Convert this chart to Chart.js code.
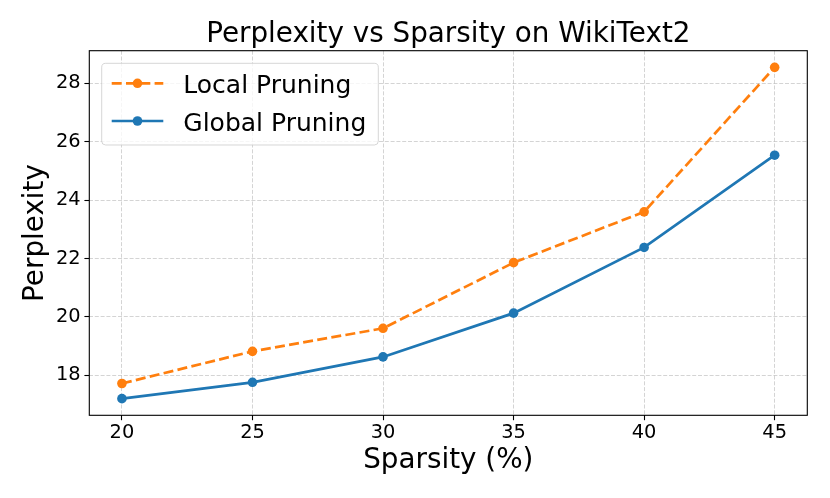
<!DOCTYPE html>
<html>
<head>
<meta charset="utf-8">
<script src="https://cdn.jsdelivr.net/npm/chart.js@4.4.1/dist/chart.umd.min.js"></script>
<style>
  html, body { margin: 0; padding: 0; background: #ffffff; }
  #wrap { width: 830px; height: 498px; }
</style>
</head>
<body>
<div id="wrap"><canvas id="c" width="830" height="498"></canvas></div>
<script>
const sparsity = [20, 25, 30, 35, 40, 45];
const localPruning = [17.72, 18.82, 19.61, 21.86, 23.60, 28.55];
const globalPruning = [17.20, 17.76, 18.63, 20.13, 22.38, 25.54];
const seriesNames = ['Local Pruning', 'Global Pruning'];
const titleText = 'Perplexity vs Sparsity on WikiText2';
const xTitle = 'Sparsity (%)';
const yTitle = 'Perplexity';

const FONT = 'DejaVu Sans';
const ORANGE = '#ff7f0e';
const BLUE = '#1f77b4';

function pairs(xs, ys) { return xs.map((x, i) => ({ x: x, y: ys[i] })); }

const frameAndLegend = {
  id: 'frameAndLegend',
  afterDraw(chart) {
    const ctx = chart.ctx;
    const a = chart.chartArea;
    ctx.save();
    // axes frame
    ctx.strokeStyle = '#000000';
    ctx.lineWidth = 1.1;
    ctx.setLineDash([]);
    ctx.strokeRect(a.left, a.top, a.right - a.left, a.bottom - a.top);

    // legend
    const bx = a.left + 12.4, by = a.top + 12.6, bw = 276.6, bh = 81.7, r = 4;
    ctx.beginPath();
    ctx.moveTo(bx + r, by);
    ctx.lineTo(bx + bw - r, by);
    ctx.quadraticCurveTo(bx + bw, by, bx + bw, by + r);
    ctx.lineTo(bx + bw, by + bh - r);
    ctx.quadraticCurveTo(bx + bw, by + bh, bx + bw - r, by + bh);
    ctx.lineTo(bx + r, by + bh);
    ctx.quadraticCurveTo(bx, by + bh, bx, by + bh - r);
    ctx.lineTo(bx, by + r);
    ctx.quadraticCurveTo(bx, by, bx + r, by);
    ctx.closePath();
    ctx.fillStyle = 'rgba(255,255,255,0.8)';
    ctx.fill();
    ctx.strokeStyle = 'rgba(204,204,204,0.8)';
    ctx.lineWidth = 1;
    ctx.stroke();

    chart.data.datasets.forEach((ds, i) => {
      const rowY = by + 20 + i * 37.7;
      const x0 = bx + 10, x1 = bx + 61.6, xm = (x0 + x1) / 2;
      ctx.strokeStyle = ds.borderColor;
      ctx.lineWidth = ds.borderWidth;
      ctx.setLineDash(ds.borderDash || []);
      ctx.beginPath();
      ctx.moveTo(x0, rowY);
      ctx.lineTo(x1, rowY);
      ctx.stroke();
      ctx.setLineDash([]);
      ctx.fillStyle = ds.borderColor;
      ctx.beginPath();
      ctx.arc(xm, rowY, ds.pointRadius, 0, Math.PI * 2);
      ctx.fill();
      ctx.fillStyle = '#000000';
      ctx.font = '25px "' + FONT + '"';
      ctx.textAlign = 'left';
      ctx.textBaseline = 'alphabetic';
      ctx.fillText(ds.label, bx + 81.6, rowY + 10);
    });
    ctx.restore();
  }
};

const gridCommon = {
  color: 'rgba(176,176,176,0.55)',
  lineWidth: 1,
  tickLength: 4.9,
  tickColor: '#000000',
  tickWidth: 1.1
};

new Chart(document.getElementById('c'), {
  type: 'line',
  data: {
    datasets: [
      {
        label: seriesNames[0],
        data: pairs(sparsity, localPruning),
        borderColor: ORANGE,
        backgroundColor: ORANGE,
        borderWidth: 2.7,
        borderDash: [10, 4.3],
        pointRadius: 4.8,
        pointHoverRadius: 4.8,
        pointBorderWidth: 0,
        pointBackgroundColor: ORANGE,
        tension: 0,
        fill: false
      },
      {
        label: seriesNames[1],
        data: pairs(sparsity, globalPruning),
        borderColor: BLUE,
        backgroundColor: BLUE,
        borderWidth: 2.7,
        pointRadius: 4.8,
        pointHoverRadius: 4.8,
        pointBorderWidth: 0,
        pointBackgroundColor: BLUE,
        tension: 0,
        fill: false
      }
    ]
  },
  options: {
    responsive: false,
    animation: false,
    devicePixelRatio: 1,
    layout: { padding: { left: 0, right: 22.7, top: 0, bottom: 0 } },
    plugins: {
      legend: { display: false },
      tooltip: { enabled: false },
      title: {
        display: true,
        text: titleText,
        fullSize: false,
        color: '#000000',
        font: { family: FONT, size: 27.8, weight: 'normal', lineHeight: 1 },
        padding: { top: 21.3, bottom: 1.6 }
      }
    },
    scales: {
      x: {
        type: 'linear',
        min: 18.75,
        max: 46.25,
        afterFit(scale) { scale.height = 82.7; },
        ticks: {
          stepSize: 5,
          includeBounds: false,
          color: '#000000',
          padding: 1,
          maxRotation: 0,
          font: { family: FONT, size: 19.4 }
        },
        grid: gridCommon,
        border: { display: false, dash: [4, 1.8] },
        title: {
          display: true,
          text: xTitle,
          color: '#000000',
          font: { family: FONT, size: 27.8, lineHeight: 1 },
          padding: { top: 0, bottom: 23.2 }
        }
      },
      y: {
        type: 'linear',
        min: 16.63,
        max: 29.12,
        afterFit(scale) { scale.width = 89.3; },
        ticks: {
          stepSize: 2,
          includeBounds: false,
          color: '#000000',
          padding: 3.7,
          font: { family: FONT, size: 19.4 }
        },
        grid: gridCommon,
        border: { display: false, dash: [4, 1.8] },
        title: {
          display: true,
          text: yTitle,
          color: '#000000',
          font: { family: FONT, size: 27.8, lineHeight: 1 },
          padding: { top: 22.3, bottom: 0 }
        }
      }
    }
  },
  plugins: [frameAndLegend]
});
</script>
</body>
</html>
